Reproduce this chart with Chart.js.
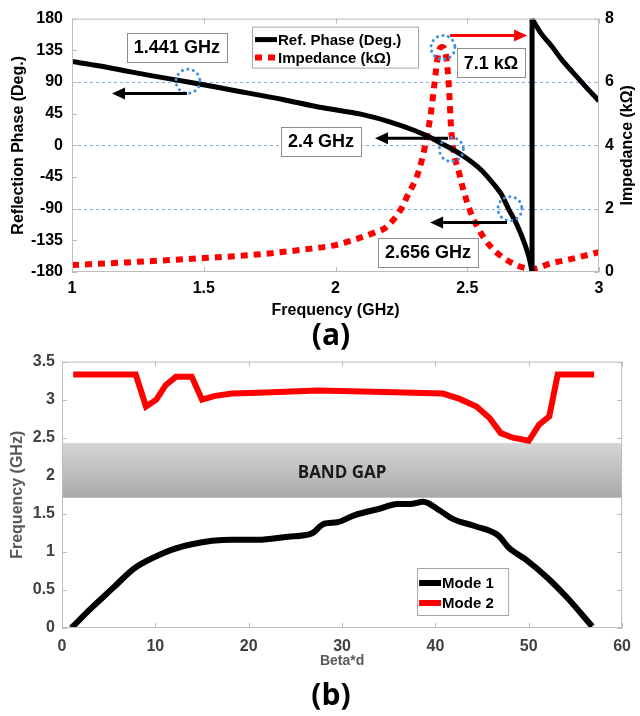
<!DOCTYPE html>
<html>
<head>
<meta charset="utf-8">
<script src="https://cdn.jsdelivr.net/npm/chart.js@4.4.1/dist/chart.umd.min.js"></script>
<style>
  body { margin: 0; background: #fff; width: 640px; height: 716px; position: relative; overflow: hidden; }
  #wrapA { position: absolute; left: 0; top: 0; width: 640px; height: 320px; }
  #wrapB { position: absolute; left: 0; top: 345px; width: 640px; height: 327px; }
  .panel { position: absolute; left: 11px; width: 640px; text-align: center; font: bold 30px "Open Sans", sans-serif; color: #000; line-height: 36px; }
</style>
</head>
<body>
<div id="wrapA"><canvas id="chartA" width="640" height="320"></canvas></div>
<div class="panel" style="top:316px">(a)</div>
<div id="wrapB"><canvas id="chartB" width="640" height="327"></canvas></div>
<div class="panel" style="top:676px">(b)</div>
<script>
// ---- (a) reflection phase and impedance vs frequency
// phase branch before the wrap at ~2.746 GHz
const freqPhaseLow = [1.0, 1.1, 1.2, 1.3, 1.441, 1.6, 1.8, 1.94, 2.1, 2.2, 2.3, 2.36, 2.4, 2.45, 2.5, 2.55, 2.6, 2.63, 2.656, 2.69, 2.72, 2.735, 2.746];
const phaseLow     = [119, 113, 106, 99, 90, 79, 65, 54, 44, 34, 21, 11, 3, -7, -19, -34, -55, -70, -90, -114, -142, -160, -180];
// phase branch after the wrap
const freqPhaseHigh = [2.746, 2.76, 2.78, 2.82, 2.86, 2.9, 2.95, 3.0];
const phaseHigh     = [180, 171, 159, 141, 121, 104, 83, 63];

const freqImp   = [1.0, 1.2, 1.5, 1.7, 1.9, 2.0, 2.065, 2.15, 2.19, 2.25, 2.27, 2.32, 2.36, 2.375, 2.39, 2.405, 2.42, 2.43, 2.44, 2.47, 2.51, 2.57, 2.65, 2.746, 2.82, 2.9, 3.0];
const impedance = [0.22, 0.3, 0.44, 0.55, 0.73, 0.85, 1.0, 1.25, 1.4, 2.0, 2.35, 3.3, 4.9, 5.9, 6.9, 7.1, 6.8, 5.9, 4.4, 3.1, 1.95, 1.0, 0.38, 0.1, 0.28, 0.42, 0.63];

const phaseRefLines = [90, 0, -90];

// annotations (data coordinates: x = GHz, y = degrees)
const labelsA = [
    { text: '1.441 GHz', x: 1.398, y: 139 },
    { text: '2.4 GHz',   x: 1.945, y: 6 },
    { text: '2.656 GHz', x: 2.351, y: -152 },
    { text: '7.1 kΩ',    x: 2.59,  y: 117 }
];
const arrowsA = [
    { from: [1.436, 73.5],  to: [1.152, 73.5],  color: '#000' },
    { from: [2.427, 10],    to: [2.15, 10],     color: '#000' },
    { from: [2.651, -109.6],to: [2.359, -109.6],color: '#000' },
    { from: [2.435, 156],   to: [2.727, 156],   color: '#ff0000' }
];
const circlesA = [ [1.44, 91], [2.408, 139], [2.44, -6], [2.662, -90] ];

// ---- (b) dispersion diagram
const betaMode1 = [1, 3.3, 5.5, 7.6, 8.6, 9.7, 11.8, 13.9, 16.1, 18.2, 21, 24.2, 26.7, 28.1, 29.5, 31.3, 34.1, 35.9, 37.3, 38.7, 40.5, 41.9, 44.2, 46.7, 47.9, 49.8, 52, 54.1, 56.8];
const freqMode1 = [0, 0.28, 0.53, 0.77, 0.85, 0.92, 1.03, 1.10, 1.145, 1.16, 1.16, 1.20, 1.24, 1.37, 1.39, 1.48, 1.57, 1.63, 1.63, 1.66, 1.54, 1.43, 1.34, 1.22, 1.05, 0.89, 0.66, 0.40, 0.02];
const betaMode2 = [1.2, 7.9, 9.0, 10.1, 11.1, 12.2, 13.9, 15.0, 16.4, 18.2, 21, 27.4, 34.5, 40.8, 42.6, 44.4, 45.8, 47.0, 48.3, 50.0, 51.1, 52.2, 53.1, 57.0];
const freqMode2 = [3.33, 3.33, 2.91, 3.0, 3.19, 3.30, 3.30, 3.0, 3.05, 3.08, 3.09, 3.12, 3.10, 3.08, 3.01, 2.91, 2.76, 2.56, 2.50, 2.46, 2.67, 2.78, 3.33, 3.33];
const bandGapBeta = [0, 60];
const bandGapLow = 1.71;
const bandGapHigh = 2.43;

function pts(xs, ys) {
    return xs.map((x, i) => ({ x: x, y: ys[i] }));
}

const ARIAL = '"Liberation Sans", Arial, sans-serif';
const plainNum = v => String(+v.toFixed(3));

function drawArrow(ctx, x1, y1, x2, y2, color) {
    const ang = Math.atan2(y2 - y1, x2 - x1), head = 13, hw = 6;
    const bx = x2 - head * Math.cos(ang), by = y2 - head * Math.sin(ang);
    ctx.strokeStyle = color;
    ctx.fillStyle = color;
    ctx.lineWidth = 3;
    ctx.beginPath(); ctx.moveTo(x1, y1); ctx.lineTo(bx, by); ctx.stroke();
    ctx.beginPath();
    ctx.moveTo(x2, y2);
    ctx.lineTo(bx + hw * Math.sin(ang), by - hw * Math.cos(ang));
    ctx.lineTo(bx - hw * Math.sin(ang), by + hw * Math.cos(ang));
    ctx.closePath();
    ctx.fill();
}

// box around the plot + small inner ticks like matlab
function drawFrame(chart, leftScale, rightScale) {
    const { ctx, chartArea: a, scales } = chart;
    ctx.save();
    ctx.strokeStyle = '#bdbdbd';
    ctx.lineWidth = 1;
    ctx.strokeRect(a.left + 0.5, a.top + 0.5, a.right - a.left - 1, a.bottom - a.top - 1);
    ctx.beginPath();
    scales.x.ticks.forEach(t => {
        const px = Math.round(scales.x.getPixelForValue(t.value)) + 0.5;
        ctx.moveTo(px, a.bottom); ctx.lineTo(px, a.bottom - 5);
        ctx.moveTo(px, a.top); ctx.lineTo(px, a.top + 5);
    });
    scales[leftScale].ticks.forEach(t => {
        const py = Math.round(scales[leftScale].getPixelForValue(t.value)) + 0.5;
        ctx.moveTo(a.left, py); ctx.lineTo(a.left + 5, py);
    });
    scales[rightScale].ticks.forEach(t => {
        const py = Math.round(scales[rightScale].getPixelForValue(t.value)) + 0.5;
        ctx.moveTo(a.right, py); ctx.lineTo(a.right - 5, py);
    });
    ctx.stroke();
    ctx.restore();
}

function legendEntry(ctx, x, y, ds, text) {
    ctx.save();
    ctx.strokeStyle = ds.borderColor;
    ctx.lineWidth = ds.borderWidth;
    ctx.setLineDash(ds.borderDash || []);
    ctx.beginPath(); ctx.moveTo(x, y); ctx.lineTo(x + 22, y); ctx.stroke();
    ctx.setLineDash([]);
    ctx.fillStyle = '#000';
    ctx.font = 'bold 15px ' + ARIAL;
    ctx.textBaseline = 'middle';
    ctx.fillText(text, x + 23, y + 1);
    ctx.restore();
}

const plotA = {
    id: 'plotA',
    beforeDatasetsDraw(chart) {
        const { ctx, chartArea: a, scales } = chart;
        ctx.save();
        ctx.strokeStyle = '#7fb0e0';
        ctx.lineWidth = 1;
        ctx.setLineDash([3, 3]);
        phaseRefLines.forEach(v => {
            const py = Math.round(scales.y.getPixelForValue(v)) + 0.5;
            ctx.beginPath(); ctx.moveTo(a.left, py); ctx.lineTo(a.right, py); ctx.stroke();
        });
        ctx.restore();
    },
    afterDatasetsDraw(chart) {
        const { ctx, chartArea: a, scales } = chart;
        drawFrame(chart, 'y', 'y2');
        ctx.save();
        // dotted circles
        ctx.strokeStyle = '#3d8fe0';
        ctx.lineWidth = 3;
        ctx.lineCap = 'round';
        ctx.setLineDash([0.1, 5.5]);
        circlesA.forEach(c => {
            ctx.beginPath();
            ctx.arc(scales.x.getPixelForValue(c[0]), scales.y.getPixelForValue(c[1]), 12, 0, Math.PI * 2);
            ctx.stroke();
        });
        ctx.setLineDash([]);
        ctx.lineCap = 'butt';
        // arrows
        arrowsA.forEach(ar => {
            drawArrow(ctx,
                scales.x.getPixelForValue(ar.from[0]), scales.y.getPixelForValue(ar.from[1]),
                scales.x.getPixelForValue(ar.to[0]), scales.y.getPixelForValue(ar.to[1]), ar.color);
        });
        // text boxes
        ctx.font = 'bold 18px ' + ARIAL;
        ctx.textAlign = 'center';
        ctx.textBaseline = 'middle';
        labelsA.forEach(l => {
            const cx = scales.x.getPixelForValue(l.x), cy = scales.y.getPixelForValue(l.y);
            const w = ctx.measureText(l.text).width + 14, h = 29;
            ctx.fillStyle = '#fff';
            ctx.fillRect(cx - w / 2, cy - h / 2, w, h);
            ctx.strokeStyle = '#8c8c8c';
            ctx.lineWidth = 1;
            ctx.strokeRect(Math.round(cx - w / 2) + 0.5, Math.round(cy - h / 2) + 0.5, Math.round(w), h);
            ctx.fillStyle = '#000';
            ctx.fillText(l.text, cx, cy + 1);
        });
        // legend
        const lx = a.left + 180, ly = a.top + 8;
        ctx.fillStyle = '#fff';
        ctx.fillRect(lx, ly, 166, 41);
        ctx.strokeStyle = '#a6a6a6';
        ctx.strokeRect(lx + 0.5, ly + 0.5, 166, 41);
        ctx.restore();
        const dsA = chart.data.datasets;
        legendEntry(ctx, lx + 3, ly + 13, dsA[0], dsA[0].label);
        legendEntry(ctx, lx + 3, ly + 31, dsA[3], dsA[3].label);
        // right axis title (reads bottom to top)
        ctx.save();
        ctx.translate(628, (a.top + a.bottom) / 2);
        ctx.rotate(-Math.PI / 2);
        ctx.font = 'bold 16px ' + ARIAL;
        ctx.fillStyle = '#000';
        ctx.textAlign = 'center';
        ctx.textBaseline = 'middle';
        ctx.fillText('Impedance (kΩ)', 0, 0);
        ctx.restore();
    }
};

const phaseStyle = { borderColor: '#000', borderWidth: 5, pointRadius: 0, yAxisID: 'y' };

const chartA = new Chart(document.getElementById('chartA'), {
    type: 'line',
    data: {
        datasets: [Object.assign({
            label: 'Ref. Phase (Deg.)',
            data: pts(freqPhaseLow, phaseLow),
            cubicInterpolationMode: 'monotone'
        }, phaseStyle), Object.assign({
            label: 'phase wrap',
            data: [{ x: freqPhaseLow[freqPhaseLow.length - 1], y: phaseLow[phaseLow.length - 1] },
                   { x: freqPhaseHigh[0], y: phaseHigh[0] }],
            tension: 0
        }, phaseStyle), Object.assign({
            label: 'phase high',
            data: pts(freqPhaseHigh, phaseHigh),
            cubicInterpolationMode: 'monotone'
        }, phaseStyle), {
            label: 'Impedance (kΩ)',
            data: pts(freqImp, impedance),
            borderColor: '#ff0000',
            borderWidth: 6,
            borderDash: [7, 6],
            borderCapStyle: 'butt',
            pointRadius: 0,
            cubicInterpolationMode: 'monotone',
            yAxisID: 'y2'
        }]
    },
    options: {
        responsive: false,
        animation: false,
        devicePixelRatio: 1,
        layout: { padding: { top: 16, left: 0, right: 0, bottom: 0 } },
        plugins: { legend: { display: false }, tooltip: { enabled: false } },
        scales: {
            x: {
                type: 'linear', min: 1, max: 3,
                ticks: { stepSize: 0.5, color: '#000', font: { family: ARIAL, size: 16, weight: 'bold' }, padding: 7, maxRotation: 0, callback: plainNum },
                grid: { display: false, drawTicks: false },
                border: { display: false },
                title: { display: true, text: 'Frequency (GHz)', color: '#000', font: { family: ARIAL, size: 16, weight: 'bold' }, padding: { top: 0, bottom: 0 } },
                afterFit: s => { s.height = 48; }
            },
            y: {
                position: 'left', min: -180, max: 180,
                ticks: { stepSize: 45, color: '#000', font: { family: ARIAL, size: 16, weight: 'bold' }, padding: 9, callback: plainNum },
                grid: { display: false, drawTicks: false },
                border: { display: false },
                title: { display: true, text: 'Reflection Phase (Deg.)', color: '#000', font: { family: ARIAL, size: 16, weight: 'bold' }, padding: { top: 9, bottom: 0 } },
                afterFit: s => { s.width = 72; }
            },
            y2: {
                position: 'right', min: 0, max: 8,
                ticks: { stepSize: 2, color: '#000', font: { family: ARIAL, size: 16, weight: 'bold' }, padding: 6, callback: plainNum },
                grid: { display: false, drawTicks: false },
                border: { display: false },
                afterFit: s => { s.width = 41; }
            }
        }
    },
    plugins: [plotA]
});

const plotB = {
    id: 'plotB',
    afterDatasetsDraw(chart) {
        const { ctx, chartArea: a, scales } = chart;
        drawFrame(chart, 'y', 'y');
        ctx.save();
        ctx.font = 'bold 17px "Open Sans", ' + ARIAL;
        ctx.fillStyle = '#1a1a1a';
        ctx.textAlign = 'center';
        ctx.textBaseline = 'middle';
        ctx.fillText('BAND GAP', scales.x.getPixelForValue(30), scales.y.getPixelForValue(2.04));
        // legend
        const lx = a.right - 205, ly = a.bottom - 60;
        ctx.fillStyle = '#fff';
        ctx.fillRect(lx, ly, 91, 47);
        ctx.strokeStyle = '#a6a6a6';
        ctx.lineWidth = 1;
        ctx.strokeRect(lx + 0.5, ly + 0.5, 91, 47);
        ctx.restore();
        const ds = chart.data.datasets;
        legendEntry(ctx, lx + 2, ly + 15, ds[0], ds[0].label);
        legendEntry(ctx, lx + 2, ly + 35, ds[1], ds[1].label);
    }
};

function bandFill(ctx) {
    const chart = ctx.chart;
    if (!chart.chartArea) return '#bbbbbb';
    const y1 = chart.scales.y.getPixelForValue(bandGapHigh);
    const y2 = chart.scales.y.getPixelForValue(bandGapLow);
    const g = chart.ctx.createLinearGradient(0, y1, 0, y2);
    g.addColorStop(0, '#d6d6d6');
    g.addColorStop(1, '#a9a9a9');
    return g;
}

const chartB = new Chart(document.getElementById('chartB'), {
    type: 'line',
    data: {
        datasets: [{
            label: 'Mode 1',
            data: pts(betaMode1, freqMode1),
            borderColor: '#000',
            borderWidth: 6,
            pointRadius: 0,
            cubicInterpolationMode: 'monotone',
            order: 1
        }, {
            label: 'Mode 2',
            data: pts(betaMode2, freqMode2),
            borderColor: '#ff0000',
            borderWidth: 6,
            pointRadius: 0,
            tension: 0,
            order: 0
        }, {
            label: 'band top',
            data: bandGapBeta.map(b => ({ x: b, y: bandGapHigh })),
            borderWidth: 0,
            pointRadius: 0,
            fill: '+1',
            backgroundColor: bandFill,
            order: 10
        }, {
            label: 'band bottom',
            data: bandGapBeta.map(b => ({ x: b, y: bandGapLow })),
            borderWidth: 0,
            pointRadius: 0,
            order: 11
        }]
    },
    options: {
        responsive: false,
        animation: false,
        devicePixelRatio: 1,
        layout: { padding: { top: 12, left: 0, right: 13, bottom: 0 } },
        plugins: { legend: { display: false }, tooltip: { enabled: false } },
        scales: {
            x: {
                type: 'linear', min: 0, max: 60,
                ticks: { stepSize: 10, color: '#404040', font: { family: ARIAL, size: 16, weight: 'bold' }, padding: 9, maxRotation: 0, callback: plainNum },
                grid: { display: false, drawTicks: false },
                border: { display: false },
                title: { display: true, text: 'Beta*d', color: '#595959', font: { family: ARIAL, size: 14, weight: 'bold' }, padding: { top: 0, bottom: 2 } },
                afterFit: s => { s.height = 44; }
            },
            y: {
                min: 0, max: 3.5,
                ticks: { stepSize: 0.5, color: '#404040', font: { family: ARIAL, size: 16, weight: 'bold' }, padding: 7, callback: plainNum },
                grid: { display: false, drawTicks: false },
                border: { display: false },
                title: { display: true, text: 'Frequency (GHz)', color: '#595959', font: { family: ARIAL, size: 16, weight: 'bold' }, padding: { top: 8, bottom: 0 } },
                afterFit: s => { s.width = 62; }
            }
        }
    },
    plugins: [plotB]
});
</script>
</body>
</html>
